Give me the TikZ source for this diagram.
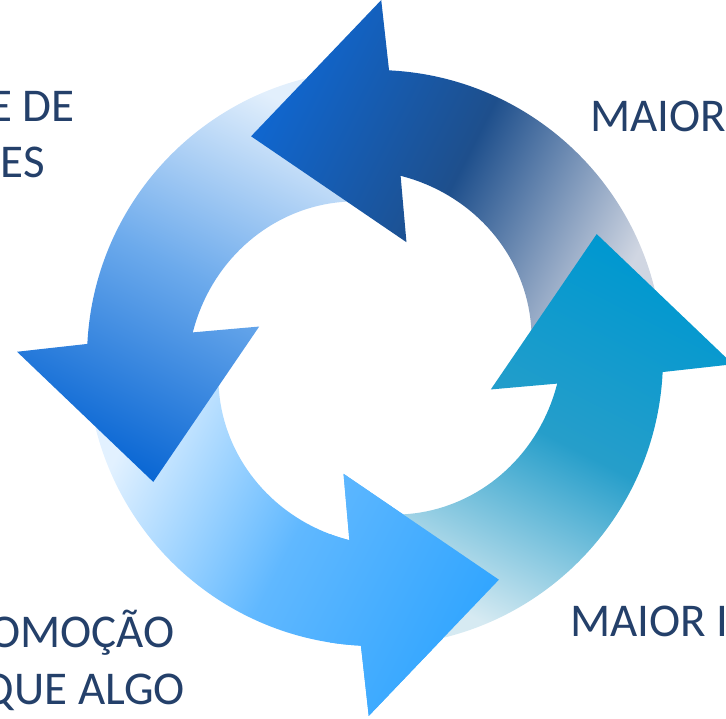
\documentclass[tikz,border=0pt]{standalone}
\usepackage{fontspec}
\setmainfont{Carlito}

\definecolor{labeltext}{RGB}{36,64,106}
\definecolor{tealhead}{RGB}{0,152,208}
\definecolor{tealmid}{RGB}{38,158,202}
\definecolor{teallight}{RGB}{214,234,242}
\definecolor{navyhead}{RGB}{16,102,206}
\definecolor{navymid}{RGB}{30,79,140}
\definecolor{navylight}{RGB}{208,214,226}
\definecolor{softhead}{RGB}{12,104,212}
\definecolor{softmid}{RGB}{108,170,236}
\definecolor{softlight}{RGB}{226,239,252}
\definecolor{skyhead}{RGB}{51,166,255}
\definecolor{skymid}{RGB}{96,184,255}
\definecolor{skylight}{RGB}{226,241,255}

% one bent arrow of the cycle, turned by #1 degrees about the centre
\newcommand{\cyclearrowpath}[1]{({#1-88}:156)
  -- plot[domain={#1-88}:{#1-8}, samples=40] (\x:{184+0.35*(\x-(#1)+8)})
  -- ({#1-15.2}:120) -- ({#1+29.2}:254) -- ({#1-1}:358) -- ({#1-2.8}:288)
  arc[start angle={#1-2.8}, end angle={#1-88}, radius=288] -- cycle}

\tikzset{
  labeltxt/.style={text=labeltext, inner sep=0pt, font=\fontsize{47}{56}\selectfont},
  arrowteal/.style={top color=tealhead, bottom color=teallight, middle color=tealmid, shading angle=-27},
  arrownavy/.style={top color=navyhead, bottom color=navylight, middle color=navymid, shading angle=63},
  arrowsoft/.style={top color=softhead, bottom color=softlight, middle color=softmid, shading angle=153},
  arrowsky/.style={top color=skyhead, bottom color=skylight, middle color=skymid, shading angle=243}
}

\begin{document}
\begin{tikzpicture}[x=1pt, y=1pt]
  \useasboundingbox (-375,-361) rectangle (351,358);
  \clip (-375,-361) rectangle (351,358);

  % Arrows
  \foreach \a/\sty in {270/arrowsky, 180/arrowsoft, 90/arrownavy, 0/arrowteal}
    \shade[\sty] \cyclearrowpath{\a};
  % head of the lower arrow lies over the tail of the right one
  \begin{scope}
    \clip (-45,-110) rectangle (130,-361);
    \shade[arrowsky] \cyclearrowpath{270};
  \end{scope}

  % Labels
  \node[labeltxt, anchor=base east] (lefttop1) at (-300,236) {E DE};
  \node[labeltxt, anchor=base east] (lefttop2) at (-330,180) {ES};
  \node[labeltxt, anchor=base west] (righttop) at (215,226) {MAIOR};
  \node[labeltxt, anchor=base west] (rightbot) at (195,-279) {MAIOR I};
  \node[labeltxt, anchor=base east] (leftbot1) at (-200,-290) {OMOÇÃO};
  \node[labeltxt, anchor=base east] (leftbot2) at (-190,-347) {QUE ALGO};
\end{tikzpicture}
\end{document}
